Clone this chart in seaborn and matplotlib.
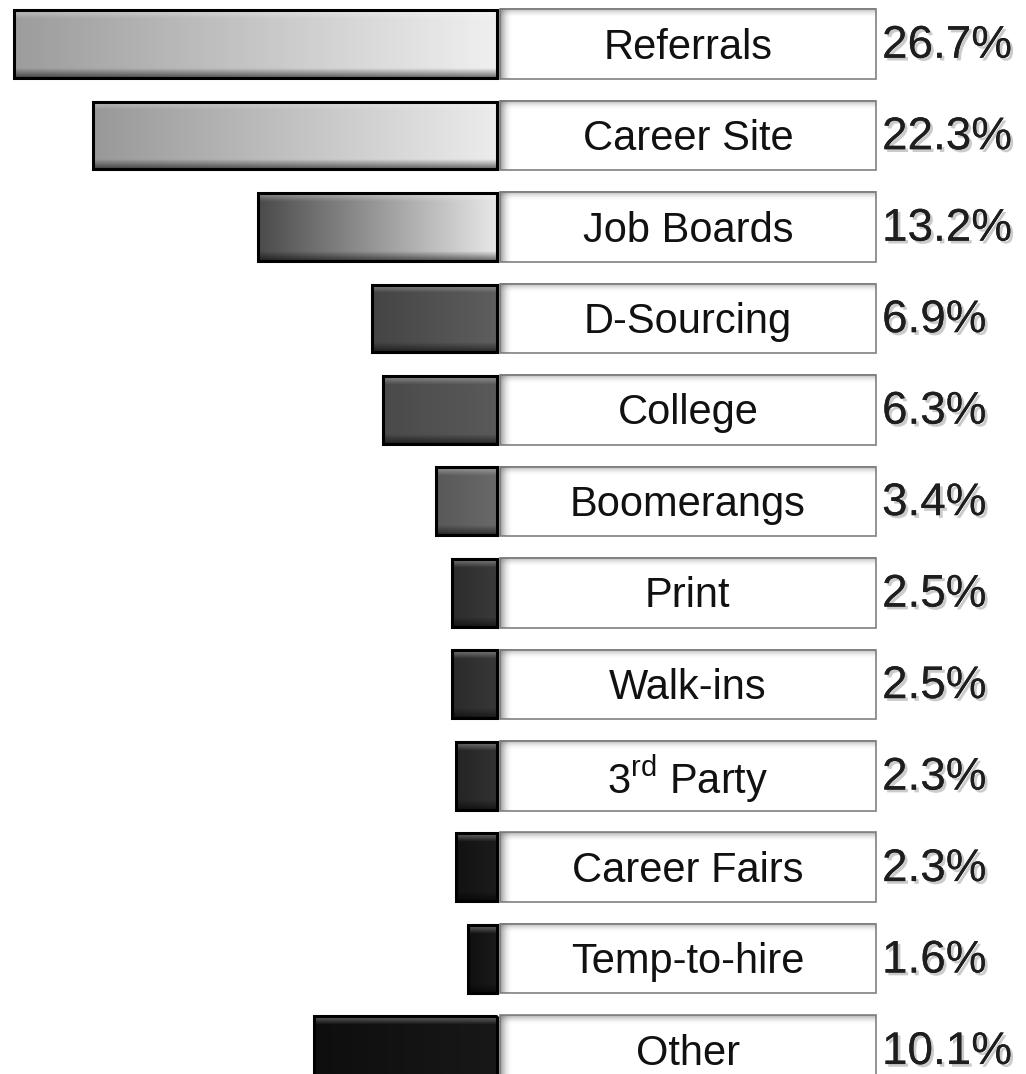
import numpy as np
import pandas as pd
import matplotlib.pyplot as plt
import seaborn as sns
from matplotlib import patheffects
from matplotlib.colors import to_rgb
from matplotlib.patches import Rectangle

# data
sources = ['Referrals', 'Career Site', 'Job Boards', 'D-Sourcing', 'College',
           'Boomerangs', 'Print', 'Walk-ins', '3$^{\\mathregular{rd}}$ Party',
           'Career Fairs', 'Temp-to-hire', 'Other']
shares = [26.7, 22.3, 13.2, 6.9, 6.3, 3.4, 2.5, 2.5, 2.3, 2.3, 1.6, 10.1]
share_labels = ['26.7%', '22.3%', '13.2%', '6.9%', '6.3%', '3.4%',
                '2.5%', '2.5%', '2.3%', '2.3%', '1.6%', '10.1%']

# left / right end colours of each bar gradient
dark_end = ['#9c9c9c', '#989898', '#4a4a4a', '#444444', '#4a4a4a', '#585858',
            '#2c2c2c', '#2a2a2a', '#242424', '#121212', '#101010', '#0e0e0e']
light_end = ['#f0f0f0', '#ececec', '#e8e8e8', '#5e5e5e', '#5a5a5a', '#6a6a6a',
             '#3a3a3a', '#383838', '#323232', '#1c1c1c', '#1a1a1a', '#181818']

sns.set_theme(style='white')
plt.rcParams['font.family'] = ['Liberation Sans', 'DejaVu Sans']

df = pd.DataFrame({'source': sources, 'share': shares})
df['neg'] = -df['share']

fig = plt.figure(figsize=(10.26, 10.74), dpi=100)
ax = fig.add_axes([0, 0, 1, 1])

sns.barplot(data=df, y='source', x='neg', orient='h', width=0.74,
            color='0.5', edgecolor='black', linewidth=2.2, ax=ax)

# gradient + bevel fill for each bar
rows = 60
cols = 256
t = np.linspace(0, 1, cols)
v = np.linspace(0, 1, rows)[:, None]
hi = np.where(v < 0.12, 0.35 * (1 - v / 0.12), 0.0)
lo = np.where(v > 0.86, 0.55 * (v - 0.86) / 0.14, 0.0)
for p, c0, c1 in zip(ax.patches, dark_end, light_end):
    b = p.get_bbox()
    xl, xr = min(b.x0, b.x1), max(b.x0, b.x1)
    yt, yb = min(b.y0, b.y1), max(b.y0, b.y1)
    a = np.array(to_rgb(c0))
    z = np.array(to_rgb(c1))
    base = a[None, None, :] + (z - a)[None, None, :] * t[None, :, None]
    base = np.repeat(base, rows, axis=0)
    img = base + (1 - base) * hi[:, :, None]
    img = img * (1 - lo[:, :, None])
    im = ax.imshow(np.clip(img, 0, 1), extent=(xl, xr, yb, yt),
                   aspect='auto', zorder=2, interpolation='bilinear')
    im.set_clip_path(p)
    p.set_facecolor('none')
    p.set_zorder(3)

# label boxes with inner shadow
box_l, box_r = 0.15, 20.9
grad = np.linspace(0, 1, 64)
for i, (name, lab) in enumerate(zip(sources, share_labels)):
    y0 = i - 0.38
    ax.add_patch(Rectangle((box_l, y0), box_r - box_l, 0.76, facecolor='white',
                           edgecolor='#8a8a8a', linewidth=1.3, zorder=2))
    sh = np.zeros((1, 64, 4))
    sh[..., :3] = 0.45
    sh[0, :, 3] = (1 - grad) ** 2 * 0.75
    ax.imshow(sh, extent=(box_l, box_l + 0.7, i + 0.38, y0), aspect='auto',
              zorder=2.5, interpolation='bilinear')
    shv = np.zeros((64, 1, 4))
    shv[..., :3] = 0.45
    shv[:, 0, 3] = (1 - grad) ** 2 * 0.6
    ax.imshow(shv, extent=(box_l, box_r, y0 + 0.1, y0), aspect='auto',
              zorder=2.5, interpolation='bilinear')
    ax.text((box_l + box_r) / 2, i + 0.04, name, ha='center', va='center',
            fontsize=30, color='#111111', zorder=4)
    ax.text(21.25, i + 0.02, lab, ha='left', va='center', fontsize=33,
            color='#1e1e1e', zorder=4,
            path_effects=[patheffects.withSimplePatchShadow(offset=(2, -2),
                                                            shadow_rgbFace='#999999',
                                                            alpha=0.5),
                          patheffects.Normal()])

ax.set_xlim(-27.46, 29.2)
ax.set_ylim(11.26, -0.48)
ax.axis('off')

fig.savefig('out.png', dpi=100)
